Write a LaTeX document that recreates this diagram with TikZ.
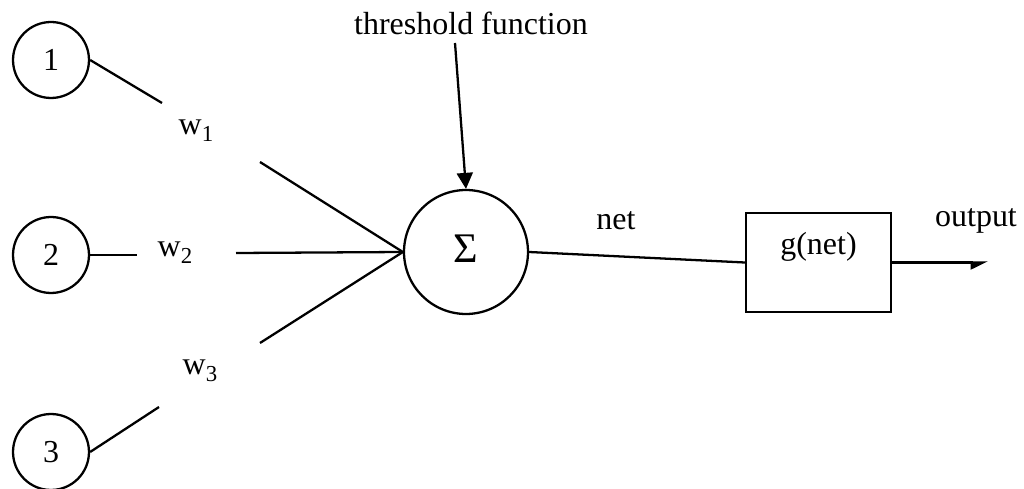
\documentclass[tikz,border=0pt]{standalone}
\usepackage{fontspec}
\setmainfont{Liberation Serif}
\usetikzlibrary{arrows.meta}
\begin{document}
\begin{tikzpicture}[x=0.02cm,y=-0.02cm,
  line width=1.3pt,
  every node/.style={font=\fontsize{18.2pt}{22pt}\selectfont},
  inputnode/.style={draw,circle,minimum size=1.52cm,inner sep=0pt},
  sumnode/.style={draw,circle,minimum size=2.48cm,inner sep=0pt},
  funcbox/.style={draw,rectangle,minimum width=2.9cm,minimum height=1.98cm,
    inner sep=0pt,text height=0.48cm,text depth=0.78cm},
  lbl/.style={anchor=base,inner sep=0pt},
  wire/.style={line width=1.3pt},
  feed/.style={line width=1.3pt,-{Triangle[length=0.32cm,width=0.32cm]}},
  outarrow/.style={line width=1.3pt,-{Triangle[length=0.3cm,width=0.28cm,harpoon,swap]}}
]
\useasboundingbox (0,0) rectangle (1024,489);

% input units
\node[inputnode] (c1) at (51,60) {1};
\node[inputnode] (c2) at (51,255) {2};
\node[inputnode] (c3) at (51,452) {3};

% summation unit and activation box
\node[sumnode] (sum) at (466,252) {\raisebox{4pt}{\fontsize{24pt}{24pt}\selectfont Σ}};
\node[funcbox] (g) at (818.5,262.5) {g(net)};

% labels
\node[lbl] (tf) at (471,35) {threshold function};
\node[lbl] (w1) at (196,135) {w\raisebox{-0.2em}{\fontsize{13pt}{13pt}\selectfont 1}};
\node[lbl] (w2) at (175,257) {w\raisebox{-0.2em}{\fontsize{13pt}{13pt}\selectfont 2}};
\node[lbl] (w3) at (200,375) {w\raisebox{-0.2em}{\fontsize{13pt}{13pt}\selectfont 3}};
\node[lbl] (net) at (616,230) {net};
\node[lbl] (out) at (976,227) {output};

% wire break points around the weight labels
\coordinate (a1) at (162,103);
\coordinate (b1) at (260,162);
\coordinate (a2) at (137,255);
\coordinate (b2) at (236,253);
\coordinate (a3) at (159,407);
\coordinate (b3) at (260,343);
\coordinate (tfstart) at (455,43);
\coordinate (outend) at (988,262.5);

% weighted connections
\draw[wire] (c1.east) -- (a1);
\draw[wire] (b1) -- (sum.west);
\draw[wire] (c2.east) -- (a2);
\draw[wire] (b2) -- (sum.west);
\draw[wire] (c3.east) -- (a3);
\draw[wire] (b3) -- (sum.west);

% threshold, net and output
\draw[feed] (tfstart) -- (sum.north);
\draw[wire] (sum.east) -- (g.west);
\draw[outarrow] (g.east) -- (outend);
\end{tikzpicture}
\end{document}
